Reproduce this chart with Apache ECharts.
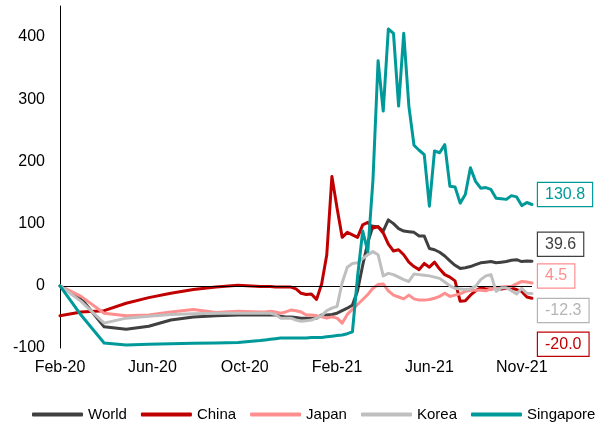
<!DOCTYPE html>
<html><head><meta charset="utf-8">
<script src="https://cdn.jsdelivr.net/npm/echarts@6/dist/echarts.min.js"></script>
<style>html,body{margin:0;padding:0;background:#fff}#c{width:613px;height:423px}</style>
</head><body><div id="c"></div>
<script>
const tickLabels = ['Feb-20','Jun-20','Oct-20','Feb-21','Jun-21','Nov-21'];
const weeks = [0,4.1,8.6,12.9,17.3,21.6,26,30.4,34.7,
39,40,41,42,43,44,45,46,47,48,
49,50,51,52,53,54,55,56,57,58,
59,60,61,62,63,64,65,66,67,68,
69,70,71,72,73,74,75,76,77,78,
79,80,81,82,83,84,85,86,87,88,
89,90,91,92];
const world = [0,-20,-66,-70,-65,-55,-50,-48,-47,
-47,-47,-47,-47,-49,-50,-50,-51,-52,-52,
-52,-52,-47,-47,-46,-44,-40,-36,-31,-8,
33,70,96,95,88,106,100,92,88,87,
86,80,80,60,58,54,48,40,33,28,
29,31,34,37,38,39,37,38,39,41,
42,39,40,39.6];
const china = [-48,-42,-40,-28,-19,-12,-6,-2,1,
-1,-1,-1,-2,-2,-2,-2,-5,-12,-14,
-13,-22,3,50,176,125,78,86,82,78,
98,102,93,95,85,67,56,58,50,38,
31,26,36,30,38,27,18,14,8,-25,
-24,-15,-8,-3,-5,-5,-4,-5,-4,-4,
-6,-9,-18,-20.0];
const japan = [0,-17,-44,-48,-47,-42,-38,-43,-41,
-42,-42,-41,-42,-44,-42,-39,-40,-42,-47,
-47,-48,-50,-52,-50,-52,-60,-46,-38,-30,
-22,-14,-4,2,3,-8,-15,-18,-21,-15,
-21,-23,-23,-22,-20,-17,-12,-17,-15,-13,
-9,-7,-7,-7,-8,-5,-4,-2,-1,-1,
3,7,6,4.5];
const korea = [0,-25,-60,-52,-49,-46,-45,-44,-44,
-44,-44,-44,-46,-52,-52,-52,-55,-57,-56,
-55,-52,-48,-40,-36,-33,5,30,36,37,
44,50,55,50,16,20,18,14,10,7,
19,18,17,16,14,12,6,0,-4,-5,
-6,-5,-1,10,16,18,-9,-3,-3,-8,
-13,-4,-12,-12.3];
const singapore = [0,-47,-92,-95,-94,-93,-92.5,-92,-91,
-88,-87,-86,-85,-84,-84,-84,-84,-84,-84,
-83,-83,-83,-82,-81,-80,-79,-77,-74,15,
88,55,170,362,281,413,406,289,406,289,
226,218,211,128,217,214,227,160,159,133,
147,190,168,157,158,155,141,140,139,145,
143,129,134,130.8];
const seriesNames = ['World','China','Japan','Korea','Singapore'];
const colors = ['#404040','#c00000','#ff8f8f','#bfbfbf','#009999'];
const labelColors = ['#404040','#c00000','#ff8f8f','#b4b4b4','#009999'];
const labelOffsets = [-17, 46, -7, 17, -10];

const font = '"Liberation Sans", Arial, sans-serif';
const values = [world, china, japan, korea, singapore];
const chart = echarts.init(document.getElementById('c'), null, {renderer: 'canvas'});
const series = seriesNames.map((name, i) => {
  const s = {
    name: name, type: 'line', symbol: 'none', z: 2 + i,
    data: weeks.map((w, j) => [w, values[i][j]]),
    lineStyle: {width: 3, color: colors[i], cap: 'round', join: 'round'},
    itemStyle: {color: colors[i]},
    endLabel: {
      show: true, formatter: p => p.value[1].toFixed(1), color: labelColors[i],
      fontSize: 16, fontFamily: font, backgroundColor: '#fff',
      borderColor: labelColors[i], borderWidth: 1.2, padding: [4, 7, 3, 7],
      distance: 6, offset: [0, labelOffsets[i]]
    }
  };
  if (i === 0) {
    s.markLine = {silent: true, symbol: 'none', label: {show: false},
      lineStyle: {color: '#000', width: 1, type: 'solid'}, data: [{yAxis: 0}]};
  }
  return s;
});
chart.setOption({
  animation: false,
  backgroundColor: '#fff',
  grid: {left: 60, right: 81, top: 6, bottom: 75},
  legend: {
    left: 27, top: 402, width: 700, itemWidth: 51, itemHeight: 4, itemGap: 14, icon: 'roundRect',
    textStyle: {fontSize: 15, color: '#000', fontFamily: font},
    data: seriesNames
  },
  xAxis: {
    type: 'value', min: 0, max: 92, interval: 18,
    axisLine: {show: false}, axisTick: {show: false}, splitLine: {show: false},
    axisLabel: {showMaxLabel: false, fontSize: 16, color: '#000', fontFamily: font, margin: 12,
      formatter: v => (v % 18 === 0 ? (tickLabels[v / 18] || '') : '')}
  },
  yAxis: {
    type: 'value', min: -100, max: 450, interval: 100,
    axisLine: {show: true, lineStyle: {color: '#000', width: 1}},
    axisTick: {show: false}, splitLine: {show: false},
    axisLabel: {showMaxLabel: false, fontSize: 16, color: '#000', fontFamily: font, margin: 15}
  },
  series: series
});
</script>
</body></html>
